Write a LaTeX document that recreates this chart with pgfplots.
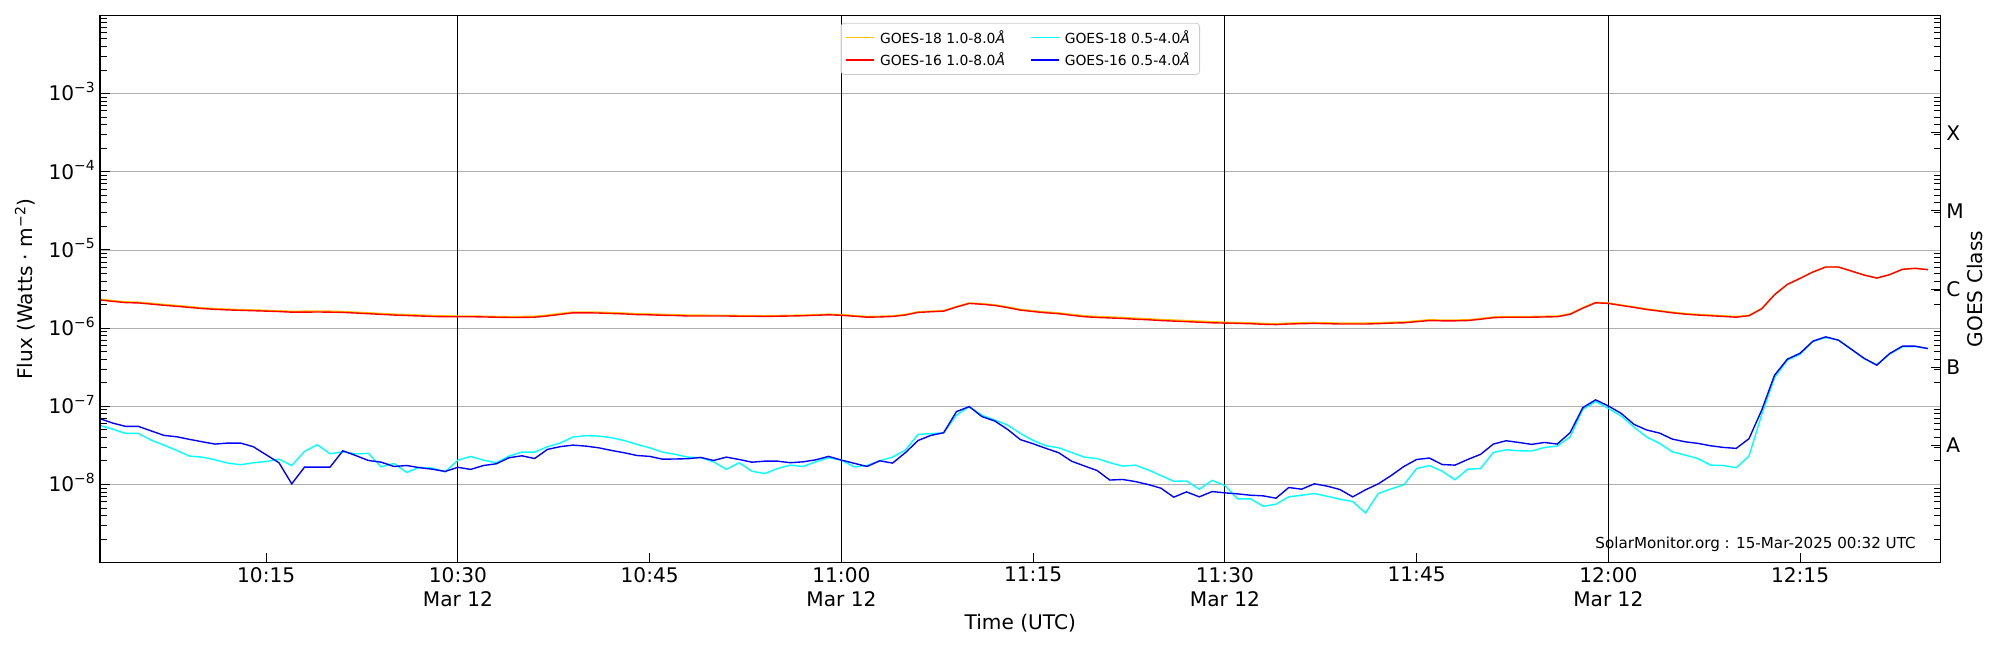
\documentclass[border=0pt]{standalone}
\usepackage{fontspec}
\setmainfont{DejaVu Sans}
\usepackage{pgfplots}
\usepackage{pgfplotstable}
\pgfplotsset{compat=1.18}
\definecolor{goesorange}{RGB}{255,192,0}
\definecolor{goescyan}{RGB}{0,255,255}
\definecolor{goesred}{RGB}{255,0,0}
\definecolor{goesblue}{RGB}{0,0,255}
\definecolor{gridgray}{RGB}{176,176,176}
\newcommand{\sci}[1]{10\smash{\raisebox{0.42em}{\fontsize{10}{10}\selectfont −#1}}}
\newcommand{\ang}{\textit{Å}}

\pgfplotstableread{
t o r c b
2 2.35e-6 2.29e-6 5.70e-8 6.95e-8
3 2.25e-6 2.20e-6 5.10e-8 6.10e-8
4 2.17e-6 2.12e-6 4.51e-8 5.54e-8
5 2.15e-6 2.10e-6 4.51e-8 5.54e-8
6 2.08e-6 2.03e-6 3.70e-8 4.85e-8
7 2.01e-6 1.96e-6 3.19e-8 4.25e-8
8 1.95e-6 1.90e-6 2.73e-8 4.08e-8
9 1.89e-6 1.84e-6 2.31e-8 3.78e-8
10 1.82e-6 1.78e-6 2.24e-8 3.52e-8
11 1.78e-6 1.74e-6 2.07e-8 3.29e-8
12 1.75e-6 1.71e-6 1.88e-8 3.39e-8
13 1.73e-6 1.69e-6 1.79e-8 3.39e-8
14 1.71e-6 1.67e-6 1.90e-8 3.04e-8
15 1.69e-6 1.65e-6 1.97e-8 2.40e-8
16 1.67e-6 1.63e-6 2.11e-8 1.90e-8
17 1.64e-6 1.60e-6 1.75e-8 1.02e-8
18 1.65e-6 1.60e-6 2.65e-8 1.67e-8
19 1.66e-6 1.61e-6 3.23e-8 1.67e-8
20 1.65e-6 1.60e-6 2.47e-8 1.67e-8
21 1.63e-6 1.59e-6 2.62e-8 2.70e-8
22 1.60e-6 1.56e-6 2.47e-8 2.35e-8
23 1.57e-6 1.53e-6 2.50e-8 2.03e-8
24 1.54e-6 1.50e-6 1.68e-8 1.93e-8
25 1.51e-6 1.47e-6 1.86e-8 1.70e-8
26 1.49e-6 1.45e-6 1.43e-8 1.75e-8
27 1.47e-6 1.43e-6 1.66e-8 1.64e-8
28 1.45e-6 1.41e-6 1.62e-8 1.57e-8
29 1.44e-6 1.40e-6 1.45e-8 1.47e-8
30 1.43e-6 1.40e-6 2.05e-8 1.66e-8
31 1.43e-6 1.40e-6 2.29e-8 1.56e-8
32 1.42e-6 1.39e-6 2.05e-8 1.75e-8
33 1.41e-6 1.38e-6 1.90e-8 1.84e-8
34 1.40e-6 1.37e-6 2.31e-8 2.20e-8
35 1.41e-6 1.37e-6 2.60e-8 2.33e-8
36 1.42e-6 1.38e-6 2.60e-8 2.15e-8
37 1.47e-6 1.43e-6 3.04e-8 2.81e-8
38 1.54e-6 1.50e-6 3.40e-8 3.05e-8
39 1.61e-6 1.57e-6 4.05e-8 3.19e-8
40 1.61e-6 1.57e-6 4.21e-8 3.10e-8
41 1.60e-6 1.56e-6 4.17e-8 2.95e-8
42 1.58e-6 1.54e-6 3.97e-8 2.73e-8
43 1.56e-6 1.52e-6 3.66e-8 2.55e-8
44 1.53e-6 1.49e-6 3.26e-8 2.35e-8
45 1.52e-6 1.48e-6 2.95e-8 2.29e-8
46 1.50e-6 1.46e-6 2.60e-8 2.11e-8
47 1.49e-6 1.45e-6 2.43e-8 2.12e-8
48 1.47e-6 1.43e-6 2.24e-8 2.14e-8
49 1.47e-6 1.43e-6 2.20e-8 2.22e-8
50 1.46e-6 1.43e-6 1.95e-8 2.03e-8
51 1.46e-6 1.43e-6 1.56e-8 2.24e-8
52 1.45e-6 1.42e-6 1.90e-8 2.09e-8
53 1.45e-6 1.42e-6 1.48e-8 1.93e-8
54 1.44e-6 1.41e-6 1.38e-8 1.99e-8
55 1.45e-6 1.42e-6 1.60e-8 1.99e-8
56 1.46e-6 1.43e-6 1.77e-8 1.90e-8
57 1.47e-6 1.44e-6 1.70e-8 1.95e-8
58 1.49e-6 1.46e-6 1.95e-8 2.07e-8
59 1.51e-6 1.48e-6 2.20e-8 2.29e-8
60 1.49e-6 1.46e-6 2.05e-8 2.05e-8
61 1.45e-6 1.42e-6 1.68e-8 1.87e-8
62 1.41e-6 1.38e-6 1.75e-8 1.70e-8
63 1.42e-6 1.39e-6 2.01e-8 2.01e-8
64 1.44e-6 1.41e-6 2.24e-8 1.88e-8
65 1.50e-6 1.47e-6 2.75e-8 2.55e-8
66 1.62e-6 1.59e-6 4.38e-8 3.66e-8
67 1.65e-6 1.62e-6 4.47e-8 4.25e-8
68 1.68e-6 1.65e-6 4.59e-8 4.59e-8
69 1.89e-6 1.86e-6 7.74e-8 8.55e-8
70 2.10e-6 2.07e-6 9.91e-8 9.91e-8
71 2.06e-6 2.02e-6 7.67e-8 7.38e-8
72 1.99e-6 1.95e-6 6.68e-8 6.49e-8
73 1.87e-6 1.83e-6 5.77e-8 5.07e-8
74 1.74e-6 1.70e-6 4.50e-8 3.75e-8
75 1.67e-6 1.63e-6 3.66e-8 3.32e-8
76 1.61e-6 1.57e-6 3.13e-8 2.90e-8
77 1.57e-6 1.53e-6 2.95e-8 2.55e-8
78 1.50e-6 1.46e-6 2.57e-8 1.99e-8
79 1.44e-6 1.40e-6 2.24e-8 1.73e-8
80 1.41e-6 1.37e-6 2.15e-8 1.51e-8
81 1.39e-6 1.35e-6 1.90e-8 1.14e-8
82 1.37e-6 1.33e-6 1.72e-8 1.16e-8
83 1.34e-6 1.30e-6 1.77e-8 1.09e-8
84 1.32e-6 1.28e-6 1.54e-8 1.00e-8
85 1.29e-6 1.25e-6 1.30e-8 8.97e-9
86 1.27e-6 1.23e-6 1.10e-8 6.89e-9
87 1.25e-6 1.21e-6 1.11e-8 8.05e-9
88 1.23e-6 1.19e-6 8.71e-9 6.95e-9
89 1.21e-6 1.17e-6 1.13e-8 8.13e-9
90 1.19e-6 1.16e-6 9.71e-9 7.82e-9
91 1.18e-6 1.15e-6 6.55e-9 7.59e-9
92 1.17e-6 1.14e-6 6.55e-9 7.30e-9
93 1.15e-6 1.12e-6 5.27e-9 7.16e-9
94 1.14e-6 1.11e-6 5.60e-9 6.68e-9
95 1.16e-6 1.13e-6 6.95e-9 9.16e-9
96 1.17e-6 1.14e-6 7.30e-9 8.71e-9
97 1.18e-6 1.15e-6 7.67e-9 1.02e-8
98 1.17e-6 1.14e-6 7.08e-9 9.53e-9
99 1.16e-6 1.13e-6 6.49e-9 8.63e-9
100 1.16e-6 1.13e-6 6.05e-9 6.95e-9
101 1.16e-6 1.13e-6 4.33e-9 8.55e-9
102 1.17e-6 1.14e-6 7.67e-9 1.02e-8
103 1.19e-6 1.16e-6 8.80e-9 1.30e-8
104 1.20e-6 1.17e-6 9.90e-9 1.70e-8
105 1.24e-6 1.21e-6 1.60e-8 2.09e-8
106 1.28e-6 1.25e-6 1.75e-8 2.18e-8
107 1.27e-6 1.24e-6 1.48e-8 1.80e-8
108 1.27e-6 1.24e-6 1.15e-8 1.77e-8
109 1.28e-6 1.25e-6 1.57e-8 2.09e-8
110 1.33e-6 1.30e-6 1.60e-8 2.43e-8
111 1.39e-6 1.36e-6 2.57e-8 3.29e-8
112 1.41e-6 1.38e-6 2.78e-8 3.63e-8
113 1.41e-6 1.38e-6 2.70e-8 3.45e-8
114 1.41e-6 1.38e-6 2.68e-8 3.26e-8
115 1.42e-6 1.39e-6 2.98e-8 3.45e-8
116 1.43e-6 1.40e-6 3.10e-8 3.29e-8
117 1.53e-6 1.50e-6 4.05e-8 4.59e-8
118 1.83e-6 1.80e-6 9.16e-8 9.62e-8
119 2.14e-6 2.11e-6 1.15e-7 1.21e-7
120 2.10e-6 2.07e-6 9.42e-8 1.01e-7
121 1.98e-6 1.95e-6 7.52e-8 8.13e-8
122 1.87e-6 1.84e-6 5.43e-8 5.88e-8
123 1.76e-6 1.73e-6 4.05e-8 4.98e-8
124 1.68e-6 1.65e-6 3.36e-8 4.55e-8
125 1.60e-6 1.57e-6 2.62e-8 3.81e-8
126 1.54e-6 1.51e-6 2.38e-8 3.52e-8
127 1.50e-6 1.47e-6 2.15e-8 3.36e-8
128 1.47e-6 1.44e-6 1.77e-8 3.13e-8
129 1.44e-6 1.41e-6 1.75e-8 2.98e-8
130 1.41e-6 1.38e-6 1.64e-8 2.90e-8
131 1.46e-6 1.44e-6 2.31e-8 3.85e-8
132 1.78e-6 1.77e-6 7.89e-8 8.97e-8
133 2.68e-6 2.68e-6 2.33e-7 2.50e-7
134 3.62e-6 3.63e-6 3.89e-7 4.01e-7
135 4.33e-6 4.33e-6 4.65e-7 4.78e-7
136 5.22e-6 5.22e-6 6.75e-7 6.81e-7
137 6.05e-6 6.05e-6 7.59e-7 7.74e-7
138 6.05e-6 6.05e-6 7.02e-7 7.02e-7
139 5.38e-6 5.38e-6 5.38e-7 5.38e-7
140 4.78e-6 4.78e-6 4.08e-7 4.12e-7
141 4.37e-6 4.37e-6 3.39e-7 3.36e-7
142 4.83e-6 4.83e-6 4.65e-7 4.73e-7
143 5.65e-6 5.65e-6 5.77e-7 5.88e-7
144 5.82e-6 5.82e-6 5.82e-7 5.88e-7
145 5.60e-6 5.60e-6 5.48e-7 5.48e-7
}\goes

\pgfplotsset{
  minorlog/.style={
    minor ytick={2e-9,3e-9,4e-9,5e-9,6e-9,7e-9,8e-9,9e-9,
      2e-8,3e-8,4e-8,5e-8,6e-8,7e-8,8e-8,9e-8,
      2e-7,3e-7,4e-7,5e-7,6e-7,7e-7,8e-7,9e-7,
      2e-6,3e-6,4e-6,5e-6,6e-6,7e-6,8e-6,9e-6,
      2e-5,3e-5,4e-5,5e-5,6e-5,7e-5,8e-5,9e-5,
      2e-4,3e-4,4e-4,5e-4,6e-4,7e-4,8e-4,9e-4,
      2e-3,3e-3,4e-3,5e-3,6e-3,7e-3,8e-3,9e-3}
  }
}

\begin{document}
\begin{tikzpicture}
\path[use as bounding box] (0,0) rectangle (1440pt,468pt);
\begin{axis}[
  ymode=log,
  scale only axis, width=1325.3pt, height=394.06pt,
  at={(72pt,62.86pt)}, anchor=south west,
  xmin=2, xmax=146, ymin=1e-9, ymax=1e-2,
  tick align=inside, major tick length=7pt, minor tick length=5pt,
  tick style={black, line width=0.7pt},
  axis line style={line width=1pt},
  minorlog,
  tick label style={font=\fontsize{14.5}{17.4}\selectfont},
  label style={font=\fontsize{14.5}{17.4}\selectfont},
  xtick={15,45,75,105,135},
  xticklabels={10:15,10:45,11:15,11:45,12:15},
  extra x ticks={30,60,90,120},
  extra x tick labels={{10:30\\Mar 12},{11:00\\Mar 12},{11:30\\Mar 12},{12:00\\Mar 12}},
  extra x tick style={xmajorgrids=true, major grid style={solid, draw=black, line width=0.8pt}},
  ytick={1e-8,1e-7,1e-6,1e-5,1e-4,1e-3},
  yticklabels={\sci{8},\sci{7},\sci{6},\sci{5},\sci{4},\sci{3}},
  xtick pos=bottom, ytick pos=left,
  ymajorgrids, major grid style={draw=gridgray, line width=0.6pt},
  xticklabel style={align=center, inner sep=0pt, yshift=-3pt},
  yticklabel style={inner sep=0pt, xshift=-3.6pt},
  xlabel={Time (UTC)},
  ylabel={Flux (Watts · m\textsuperscript{−2})},
  xlabel style={at={(axis description cs:0.5,-0.1102)}, anchor=center},
  ylabel style={at={(axis description cs:-0.04075,0.5)}, anchor=center},
  legend columns=2, legend cell align=left,
  legend image code/.code={\draw[#1, line width=1pt] (0pt,0pt) -- (20pt,0pt);},
  legend style={at={(0.5,1)}, anchor=north, yshift=-5.3pt,
    draw=black!20, line width=0.6pt, rounded corners=2.5pt,
    fill=white, fill opacity=0.8, draw opacity=1, text opacity=1,
    font=\fontsize{10}{12}\selectfont,
    inner xsep=3pt, inner ysep=2.5pt,
    nodes={inner xsep=4pt, inner ysep=2.6pt},
    /tikz/every even column/.append style={column sep=14pt}},
]
\addplot[goesorange, line width=1pt] table[x=t, y=o] {\goes};
\addlegendentry{GOES-18 1.0-8.0\ang}
\addplot[goescyan, line width=1pt] table[x=t, y=c] {\goes};
\addlegendentry{GOES-18 0.5-4.0\ang}
\addplot[goesred, line width=1pt] table[x=t, y=r] {\goes};
\addlegendentry{GOES-16 1.0-8.0\ang}
\addplot[goesblue, line width=1pt] table[x=t, y=b] {\goes};
\addlegendentry{GOES-16 0.5-4.0\ang}
\node[anchor=east, inner sep=0pt, font=\fontsize{10.9}{12}\selectfont]
  at (rel axis cs:0.98658,0.03417) {SolarMonitor.org : 15-Mar-2025 00:32 UTC};
\end{axis}
\begin{axis}[
  ymode=log,
  scale only axis, width=1325.3pt, height=394.06pt,
  at={(72pt,62.86pt)}, anchor=south west,
  xmin=2, xmax=146, ymin=1e-9, ymax=1e-2,
  tick align=inside, major tick length=7pt, minor tick length=5pt,
  tick style={black, line width=0.7pt},
  axis line style={line width=1pt},
  minorlog,
  tick label style={font=\fontsize{14.5}{17.4}\selectfont},
  label style={font=\fontsize{14.5}{17.4}\selectfont},
  hide x axis,
  ytick pos=right, yticklabel pos=right,
  ytick={3.1623e-8,3.1623e-7,3.1623e-6,3.1623e-5,3.1623e-4},
  yticklabels={A,B,C,M,X},
  yticklabel style={inner sep=0pt, xshift=3.8pt},
  ylabel={GOES Class},
  ylabel style={at={(axis description cs:1.01863,0.5)}, anchor=center},
]
\addplot[draw=none, forget plot] coordinates {(2,1e-8)};
\end{axis}
\end{tikzpicture}
\end{document}
